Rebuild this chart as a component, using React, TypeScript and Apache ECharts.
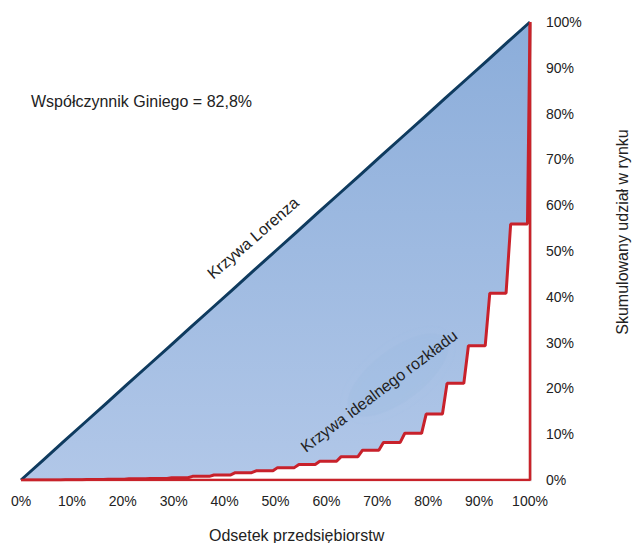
import React, { useEffect, useRef } from "react";
import * as echarts from "echarts";

// Cumulative share of firms (x, %) at each firm boundary
const firmX = [0, 4.2, 8.3, 12.5, 16.7, 20.8, 25, 29.2, 33.3, 37.5, 41.7, 45.8, 50, 54.2, 58.3, 62.5, 66.7, 70.8, 75, 79.2, 83.3, 87.5, 91.7, 95.8, 100];
// "Krzywa Lorenza" (diagonal) cumulative share (%)
const lorenzShare = [0, 4.2, 8.3, 12.5, 16.7, 20.8, 25, 29.2, 33.3, 37.5, 41.7, 45.8, 50, 54.2, 58.3, 62.5, 66.7, 70.8, 75, 79.2, 83.3, 87.5, 91.7, 95.8, 100];
// "Krzywa idealnego rozkładu" cumulative share (%) after each firm
const idealShare = [0, 0.02, 0.05, 0.1, 0.15, 0.25, 0.35, 0.5, 0.8, 1.1, 1.6, 2.0, 2.7, 3.4, 4.1, 5.1, 6.5, 8.2, 10.2, 14.4, 21.1, 29.3, 40.8, 55.9, 100];
// Frame of the perfect-inequality line
const frameX = [0, 100, 100];
const frameY = [0, 0, 100];
const axisTicks = [0, 10, 20, 30, 40, 50, 60, 70, 80, 90, 100];

const TITLE = "Współczynnik Giniego = 82,8%";
const X_NAME = "Odsetek przedsiębiorstw";
const Y_NAME = "Skumulowany udział w rynku";
const LORENZ_LABEL = "Krzywa Lorenza";
const IDEAL_LABEL = "Krzywa idealnego rozkładu";

const RED = "#c8212b";
const NAVY = "#0f3b5f";
const FONT = "'Liberation Sans', Arial, sans-serif";
const NARROW = "'Liberation Sans Narrow', 'Arial Narrow', 'Liberation Sans', sans-serif";

export default function App() {
  const ref = useRef<HTMLDivElement>(null);
  useEffect(() => {
    if (!ref.current) return;
    const chart = echarts.init(ref.current, undefined, { renderer: "svg" });

    const lorenzData = firmX.map((x, i) => [x, lorenzShare[i]]);
    const idealData: number[][] = [[firmX[0], idealShare[0]]];
    for (let k = 1; k < firmX.length; k++) {
      idealData.push([Math.max(firmX[k] - 0.5, 0), idealShare[k - 1]]);
      idealData.push([Math.min(firmX[k] + 0.4, 100), idealShare[k]]);
    }
    const frameData = frameX.map((x, i) => [x, frameY[i]]);

    chart.setOption({
      animation: false,
      grid: { left: 21, right: 104, top: 22, bottom: 63, containLabel: false },
      xAxis: {
        type: "value",
        min: 0,
        max: 100,
        interval: 10,
        axisLine: { show: false },
        axisTick: { show: false },
        splitLine: { show: false },
        axisLabel: {
          formatter: (v: number) => (axisTicks.includes(v) ? v + "%" : ""),
          margin: 14,
          color: "#222",
          fontSize: 14,
          fontFamily: NARROW,
        },
      },
      yAxis: {
        type: "value",
        position: "right",
        min: 0,
        max: 100,
        interval: 10,
        axisLine: { show: false },
        axisTick: { show: false },
        splitLine: { show: false },
        axisLabel: {
          formatter: (v: number) => (axisTicks.includes(v) ? v + "%" : ""),
          margin: 16,
          color: "#222",
          fontSize: 14,
          fontFamily: NARROW,
        },
      },
      series: [
        {
          type: "line",
          data: lorenzData,
          symbol: "none",
          lineStyle: { width: 0 },
          areaStyle: {
            opacity: 1,
            color: new echarts.graphic.LinearGradient(0, 0, 0, 1, [
              { offset: 0, color: "#8badda" },
              { offset: 1, color: "#b1c7e8" },
            ]),
          },
          z: 1,
        },
        {
          type: "line",
          data: idealData,
          symbol: "none",
          lineStyle: { width: 3, color: RED },
          areaStyle: { opacity: 1, color: "#ffffff" },
          z: 2,
        },
        {
          type: "line",
          data: lorenzData,
          symbol: "none",
          lineStyle: { width: 3, color: NAVY },
          z: 3,
        },
        {
          type: "line",
          data: frameData,
          symbol: "none",
          lineStyle: {
            width: 2.5,
            color: RED,
            shadowColor: "rgba(0,0,0,0.25)",
            shadowBlur: 2,
            shadowOffsetX: 1,
            shadowOffsetY: 1,
          },
          z: 4,
        },
      ],
      graphic: [
        {
          type: "ellipse",
          shape: { cx: 0, cy: 0, rx: 60, ry: 26 },
          x: 398,
          y: 375,
          rotation: (37 * Math.PI) / 180,
          style: { fill: "rgba(150,182,224,0.18)", shadowBlur: 10, shadowColor: "rgba(150,182,224,0.3)" },
          z: 5,
          silent: true,
        },
        {
          type: "text",
          x: 31,
          y: 101,
          style: {
            text: TITLE,
            fill: "#222",
            fontSize: 16,
            fontFamily: FONT,
            textAlign: "left",
            textVerticalAlign: "middle",
          },
          z: 10,
        },
        {
          type: "text",
          x: 209,
          y: 535,
          style: {
            text: X_NAME,
            fill: "#222",
            fontSize: 16,
            fontFamily: FONT,
            textAlign: "left",
            textVerticalAlign: "middle",
          },
          z: 10,
        },
        {
          type: "text",
          x: 622,
          y: 232,
          rotation: Math.PI / 2,
          style: {
            text: Y_NAME,
            fill: "#222",
            fontSize: 16,
            fontFamily: FONT,
            textAlign: "center",
            textVerticalAlign: "middle",
          },
          z: 10,
        },
        {
          type: "text",
          x: 253,
          y: 238,
          rotation: (41 * Math.PI) / 180,
          style: {
            text: LORENZ_LABEL,
            fill: "#222",
            fontSize: 16,
            fontFamily: FONT,
            textAlign: "center",
            textVerticalAlign: "middle",
          },
          z: 10,
        },
        {
          type: "text",
          x: 379,
          y: 391,
          rotation: (37 * Math.PI) / 180,
          style: {
            text: IDEAL_LABEL,
            fill: "#222",
            fontSize: 16,
            fontFamily: FONT,
            textAlign: "center",
            textVerticalAlign: "middle",
          },
          z: 10,
        },
      ],
    });
    return () => chart.dispose();
  }, []);
  return (
    <div
      ref={ref}
      style={{ position: "fixed", left: 0, top: 0, width: 634, height: 543, background: "#fff" }}
    />
  );
}
